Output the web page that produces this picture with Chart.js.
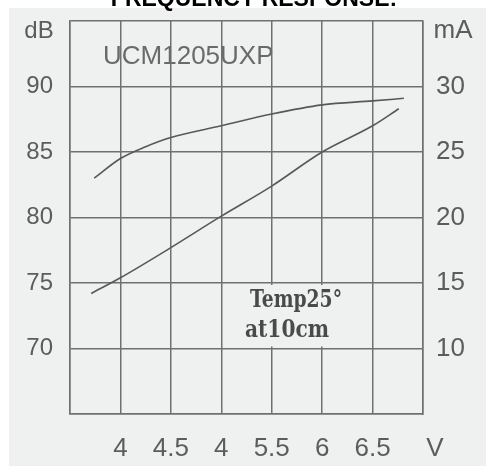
<!DOCTYPE html>
<html>
<head>
<meta charset="utf-8">
<script src="https://cdn.jsdelivr.net/npm/chart.js@4"></script>
<style>
html,body{margin:0;padding:0;background:#fff;}
#wrap{width:486px;height:466px;position:relative;}
</style>
</head>
<body>
<div id="wrap"><canvas id="c" width="486" height="466"></canvas></div>
<script>
// ---- data ----
const titleText = 'FREQUENCY RESPONSE:';
const modelText = 'UCM1205UXP';
const noteLines = ['Temp25°', 'at10cm'];
const xTickValues = [3.5, 4, 4.5, 5, 5.5, 6, 6.5, 7];
const xTickLabels = ['', '4', '4.5', '4', '5.5', '6', '6.5', ''];
const xUnit = 'V';
const leftUnit = 'dB';
const rightUnit = 'mA';
const leftTickLabels = {70: '70', 75: '75', 80: '80', 85: '85', 90: '90'};
const rightTickLabels = {10: '10', 15: '15', 20: '20', 25: '25', 30: '30'};
const splVolts = [3.74, 4.0, 4.25, 4.5, 5.0, 5.5, 6.0, 6.5, 6.81];
const splDb    = [83.0, 84.5, 85.4, 86.1, 87.0, 87.9, 88.6, 88.9, 89.1];
const curVolts = [3.71, 4.0, 4.5, 5.0, 5.5, 6.0, 6.5, 6.76];
const curMa    = [14.2, 15.4, 17.7, 20.1, 22.4, 25.0, 27.0, 28.3];

const ink = '#5c5c5c';
const gridCol = '#707070';
const bg = '#eff0f0';

const decor = {
  id: 'decor',
  beforeDraw(chart) {
    const ctx = chart.ctx;
    ctx.save();
    ctx.fillStyle = '#ffffff';
    ctx.fillRect(0, 0, chart.width, chart.height);
    ctx.fillStyle = bg;
    ctx.fillRect(9, 8, chart.width - 9, chart.height - 8);
    ctx.fillStyle = '#000';
    ctx.font = 'bold 23px "Liberation Sans", Arial, sans-serif';
    ctx.textAlign = 'center';
    ctx.textBaseline = 'alphabetic';
    ctx.fillText(titleText, 254, 6);
    ctx.restore();
  },
  beforeDatasetsDraw(chart) {
    const ctx = chart.ctx;
    const x = chart.scales.x, yl = chart.scales.y;
    ctx.save();
    // label box over the grid
    const bx0 = x.getPixelForValue(5.2), bx1 = x.getPixelForValue(6.4);
    const by0 = yl.getPixelForValue(75) + 2, by1 = yl.getPixelForValue(70) - 2;
    ctx.fillStyle = bg;
    ctx.fillRect(bx0, by0, bx1 - bx0, by1 - by0);
    // note text (horizontally condensed serif)
    ctx.save();
    ctx.fillStyle = '#4a4a4a';
    ctx.font = 'bold 24px "DejaVu Serif", "Liberation Serif", serif';
    ctx.textAlign = 'left';
    ctx.textBaseline = 'alphabetic';
    ctx.translate(250, 0);
    ctx.scale(0.78, 1);
    ctx.fillText(noteLines[0], 0, 307);
    ctx.restore();
    ctx.save();
    ctx.fillStyle = '#4a4a4a';
    ctx.font = 'bold 24px "DejaVu Serif", "Liberation Serif", serif';
    ctx.textAlign = 'left';
    ctx.textBaseline = 'alphabetic';
    ctx.translate(245, 0);
    ctx.scale(0.84, 1);
    ctx.fillText(noteLines[1], 0, 337);
    ctx.restore();
    // model name
    ctx.fillStyle = '#6a6a6a';
    ctx.textAlign = 'left';
    ctx.textBaseline = 'middle';
    ctx.font = '26px "Liberation Sans", Arial, sans-serif';
    ctx.fillText(modelText, 103, 57);
    // unit labels
    ctx.fillStyle = ink;
    ctx.textAlign = 'center';
    ctx.font = '24px "Liberation Sans", Arial, sans-serif';
    ctx.fillText(leftUnit, 39, 31);
    ctx.font = '26px "Liberation Sans", Arial, sans-serif';
    ctx.fillText(rightUnit, 453, 31);
    ctx.fillText(xUnit, 435, 449);
    ctx.restore();
  }
};

new Chart(document.getElementById('c'), {
  type: 'line',
  data: {
    datasets: [
      {
        label: 'SPL',
        data: splVolts.map((v, i) => ({x: v, y: splDb[i]})),
        yAxisID: 'y',
        borderColor: '#585858',
        borderWidth: 1.6,
        pointRadius: 0,
        cubicInterpolationMode: 'monotone',
        fill: false
      },
      {
        label: 'Current',
        data: curVolts.map((v, i) => ({x: v, y: curMa[i]})),
        yAxisID: 'y2',
        borderColor: '#585858',
        borderWidth: 1.6,
        pointRadius: 0,
        cubicInterpolationMode: 'monotone',
        fill: false
      }
    ]
  },
  options: {
    responsive: false,
    animation: false,
    devicePixelRatio: 1,
    layout: {padding: {top: 21, left: 0, right: 0, bottom: 0}},
    plugins: {legend: {display: false}, tooltip: {enabled: false}, title: {display: false}},
    scales: {
      x: {
        type: 'linear',
        min: 3.5, max: 7,
        afterBuildTicks: s => { s.ticks = xTickValues.map(v => ({value: v})); },
        afterFit: s => { s.height = 52; s.paddingLeft = 0; s.paddingRight = 0; },
        grid: {color: gridCol, lineWidth: 1.5, drawTicks: false},
        border: {color: gridCol, width: 1.5},
        ticks: {
          autoSkip: false, maxRotation: 0, padding: 19, color: ink,
          font: {family: '"Liberation Sans", Arial, sans-serif', size: 26},
          callback: (v) => { const i = xTickValues.indexOf(v); return i >= 0 ? xTickLabels[i] : ''; }
        }
      },
      y: {
        position: 'left',
        min: 65, max: 95,
        afterBuildTicks: s => { s.ticks = [65, 70, 75, 80, 85, 90, 95].map(v => ({value: v})); },
        afterFit: s => { s.width = 70; s.paddingTop = 0; s.paddingBottom = 0; },
        grid: {color: gridCol, lineWidth: 1.5, drawTicks: false},
        border: {color: gridCol, width: 1.5},
        ticks: {
          padding: 17, color: ink,
          font: {family: '"Liberation Sans", Arial, sans-serif', size: 24},
          callback: v => leftTickLabels[v] || ''
        }
      },
      y2: {
        position: 'right',
        min: 5, max: 35,
        afterBuildTicks: s => { s.ticks = [5, 10, 15, 20, 25, 30, 35].map(v => ({value: v})); },
        afterFit: s => { s.width = 63; s.paddingTop = 0; s.paddingBottom = 0; },
        grid: {display: false, drawTicks: false},
        border: {color: gridCol, width: 1.5},
        ticks: {
          padding: 13, color: ink,
          font: {family: '"Liberation Sans", Arial, sans-serif', size: 26},
          callback: v => rightTickLabels[v] || ''
        }
      }
    }
  },
  plugins: [decor]
});
</script>
</body>
</html>
